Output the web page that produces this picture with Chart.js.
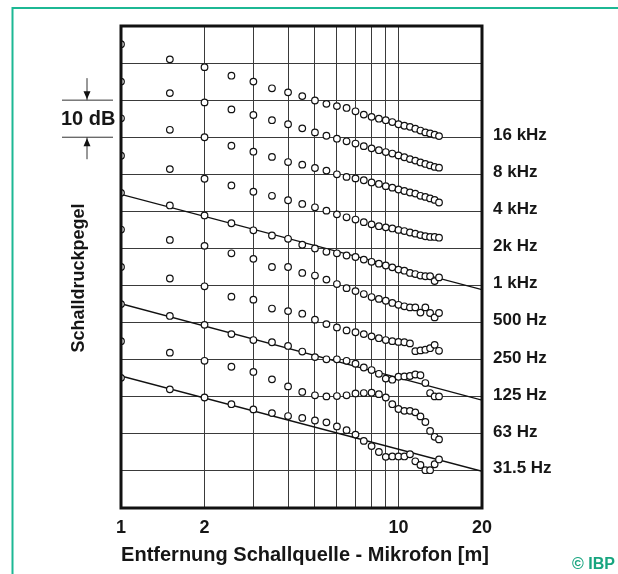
<!DOCTYPE html>
<html>
<head>
<meta charset="utf-8">
<script src="https://cdn.jsdelivr.net/npm/chart.js@4"></script>
<style>
  body { margin: 0; background: #fff; }
  #wrap { width: 618px; height: 574px; }
</style>
</head>
<body>
<div id="wrap"><canvas id="chartSchall"></canvas></div>
<script>
// Entfernung in m
const distances = [1, 1.5, 2, 2.5, 3, 3.5, 4, 4.5, 5, 5.5, 6, 6.5, 7, 7.5, 8, 8.5, 9, 9.5, 10, 10.5, 11, 11.5, 12, 12.5, 13, 13.5, 14];

const level16k = [125.1, 121.0, 118.9, 116.6, 115.0, 113.2, 112.1, 111.1, 109.9, 109.0, 108.4, 107.9, 107.0, 106.1, 105.5, 105.0, 104.6, 104.1, 103.5, 103.1, 102.8, 102.3, 101.8, 101.3, 101.0, 100.7, 100.3];
const level8k = [115.0, 111.9, 109.4, 107.5, 106.0, 104.6, 103.5, 102.4, 101.3, 100.4, 99.6, 98.9, 98.3, 97.6, 97.0, 96.5, 96.0, 95.6, 95.1, 94.6, 94.1, 93.7, 93.2, 92.8, 92.4, 92.0, 91.8];
const level4k = [105.1, 102.0, 100.0, 97.7, 96.1, 94.7, 93.3, 92.6, 91.7, 91.0, 90.0, 89.3, 88.9, 88.4, 87.8, 87.4, 86.8, 86.4, 85.9, 85.5, 85.1, 84.8, 84.2, 83.9, 83.5, 83.1, 82.4];
const level2k = [95.0, 91.4, 88.8, 87.0, 85.3, 84.2, 83.0, 82.0, 81.1, 80.2, 79.2, 78.4, 77.8, 77.1, 76.5, 76.0, 75.7, 75.4, 75.0, 74.7, 74.3, 74.0, 73.6, 73.3, 73.1, 73.1, 72.9];
const level1k = [85.0, 81.6, 78.9, 76.8, 74.9, 73.5, 72.6, 71.0, 70.0, 69.1, 68.7, 68.1, 67.7, 67.0, 66.4, 65.9, 65.4, 64.9, 64.3, 64.0, 63.4, 63.1, 62.7, 62.5, 62.5, 61.2, 62.2];
const level500 = [75.1, 72.3, 70.7, 68.7, 67.2, 65.0, 65.0, 63.4, 62.7, 61.6, 60.4, 59.3, 58.5, 57.7, 56.9, 56.4, 55.9, 55.3, 54.8, 54.4, 54.1, 54.1, 52.7, 54.1, 52.6, 51.4, 52.6];
const level250 = [65.0, 61.9, 59.8, 57.0, 56.2, 53.8, 53.1, 52.4, 50.8, 49.6, 48.7, 47.9, 47.4, 46.9, 46.3, 45.8, 45.3, 45.0, 44.8, 44.7, 44.4, 42.3, 42.5, 42.7, 43.1, 44.0, 42.4];
const level125 = [55.0, 51.8, 49.4, 46.9, 45.3, 44.7, 43.7, 42.2, 40.7, 40.1, 40.1, 39.7, 38.9, 37.9, 37.2, 36.2, 34.9, 34.6, 35.4, 35.5, 35.6, 36.0, 35.8, 33.7, 31.0, 30.1, 30.1];
const level63 = [45.0, 41.9, 39.7, 38.1, 36.7, 34.7, 32.8, 31.3, 30.4, 30.1, 30.2, 30.4, 30.9, 31.0, 31.1, 30.7, 29.8, 28.0, 26.7, 26.2, 26.2, 25.8, 24.7, 23.2, 20.8, 19.2, 18.5];
const level31 = [35.1, 32.0, 29.8, 28.0, 26.6, 25.6, 24.8, 24.3, 23.6, 23.1, 22.0, 21.0, 19.8, 18.1, 16.7, 15.1, 13.8, 13.9, 13.9, 13.9, 14.5, 12.6, 11.6, 10.2, 10.2, 11.8, 13.1];

const seriesNames = ["16 kHz", "8 kHz", "4 kHz", "2k Hz", "1 kHz", "500 Hz", "250 Hz", "125 Hz", "63 Hz", "31.5 Hz"];
const seriesLevels = [level16k, level8k, level4k, level2k, level1k, level500, level250, level125, level63, level31];

// Geraden (freies Schallfeld) von 1 m bis 20 m
const lineX = [1, 20];
const line1k = [84.6, 58.9];
const line125 = [55.1, 29.1];
const line31 = [35.6, 9.9];

const xGrid = [1, 2, 3, 4, 5, 6, 7, 8, 9, 10, 20];
const xLabels = [1, 2, 10, 20];

const fontFamily = "'Liberation Sans', Arial, sans-serif";
const ink = "#161616";

const datasets = [];
[line1k, line125, line31].forEach((l) => {
  datasets.push({
    type: "line",
    data: lineX.map((x, i) => ({ x: x, y: l[i] })),
    borderColor: "#111",
    borderWidth: 1.4,
    pointRadius: 0,
    order: 2,
    clip: 0,
  });
});
seriesLevels.forEach((lv, k) => {
  datasets.push({
    type: "scatter",
    label: seriesNames[k],
    data: distances.map((d, i) => ({ x: d, y: lv[i] })),
    pointRadius: 3.3,
    pointBorderWidth: 1.2,
    pointBorderColor: "#111",
    pointBackgroundColor: "#fff",
    order: 1,
    clip: 0,
  });
});

const decorPlugin = {
  id: "decor",
  afterDraw(chart) {
    const { ctx, chartArea: a, scales } = chart;
    const y = scales.y;
    ctx.save();
    // Rahmen
    ctx.strokeStyle = "#111";
    ctx.lineWidth = 3;
    ctx.strokeRect(a.left, a.top, a.right - a.left, a.bottom - a.top);

    // Beschriftung der Frequenzen rechts
    ctx.fillStyle = ink;
    ctx.font = "bold 17px " + fontFamily;
    ctx.textBaseline = "middle";
    ctx.textAlign = "left";
    seriesLevels.forEach((lv, k) => {
      ctx.fillText(seriesNames[k], a.right + 11, y.getPixelForValue(lv[0] - 24.5));
    });

    // 10 dB Massstab
    const y1 = y.getPixelForValue(110);
    const y2 = y.getPixelForValue(100);
    ctx.strokeStyle = "#333";
    ctx.lineWidth = 1;
    ctx.beginPath();
    ctx.moveTo(62, y1); ctx.lineTo(113, y1);
    ctx.moveTo(62, y2); ctx.lineTo(113, y2);
    ctx.moveTo(87, y1 - 22); ctx.lineTo(87, y1);
    ctx.moveTo(87, y2); ctx.lineTo(87, y2 + 22);
    ctx.stroke();
    ctx.fillStyle = "#111";
    ctx.beginPath();
    ctx.moveTo(83.5, y1 - 9); ctx.lineTo(90.5, y1 - 9); ctx.lineTo(87, y1 - 1);
    ctx.closePath();
    ctx.moveTo(83.5, y2 + 9); ctx.lineTo(90.5, y2 + 9); ctx.lineTo(87, y2 + 1);
    ctx.closePath();
    ctx.fill();
    ctx.fillStyle = ink;
    ctx.font = "bold 20px " + fontFamily;
    ctx.textAlign = "left";
    ctx.fillText("10 dB", 61, (y1 + y2) / 2 + 1);

    // Achsentitel
    ctx.font = "bold 18px " + fontFamily;
    ctx.textAlign = "center";
    ctx.save();
    ctx.translate(79, 278);
    ctx.rotate(-Math.PI / 2);
    ctx.fillText("Schalldruckpegel", 0, 0);
    ctx.restore();
    ctx.font = "bold 20px " + fontFamily;
    ctx.fillText("Entfernung Schallquelle - Mikrofon [m]", 305, 555);

    // Copyright
    ctx.fillStyle = "#17a57f";
    ctx.font = "bold 16px " + fontFamily;
    ctx.textAlign = "right";
    ctx.fillText("\u00A9 IBP", 615, 565);

    // gruener Rand
    ctx.strokeStyle = "#1cb894";
    ctx.lineWidth = 2;
    ctx.beginPath();
    ctx.moveTo(12.5, 574);
    ctx.lineTo(12.5, 8);
    ctx.lineTo(618, 8);
    ctx.stroke();
    ctx.restore();
  },
};

new Chart(document.getElementById("chartSchall"), {
  data: { datasets: datasets },
  options: {
    responsive: true,
    maintainAspectRatio: false,
    animation: false,
    layout: {
      padding: { left: 0, top: 26, right: 136, bottom: 0 },
    },
    scales: {
      x: {
        type: "logarithmic",
        min: 1,
        max: 20,
        afterBuildTicks: (scale) => {
          scale.ticks = xGrid.map((v) => ({ value: v }));
        },
        afterFit: (scale) => {
          scale.height = 66;
        },
        grid: {
          color: "#3a3a3a",
          lineWidth: 1,
          drawTicks: false,
        },
        border: { display: false },
        ticks: {
          autoSkip: false,
          maxRotation: 0,
          padding: 9,
          color: ink,
          font: { size: 18, weight: "bold", family: fontFamily },
          callback: (v) => (xLabels.includes(v) ? String(v) : ""),
        },
      },
      y: {
        type: "linear",
        min: 0,
        max: 130,
        afterFit: (scale) => {
          scale.width = 121;
        },
        grid: {
          color: "#3a3a3a",
          lineWidth: 1,
          drawTicks: false,
        },
        border: { display: false },
        ticks: {
          stepSize: 10,
          display: false,
        },
      },
    },
    plugins: {
      legend: { display: false },
      tooltip: { enabled: false },
    },
  },
  plugins: [decorPlugin],
});
</script>
</body>
</html>
